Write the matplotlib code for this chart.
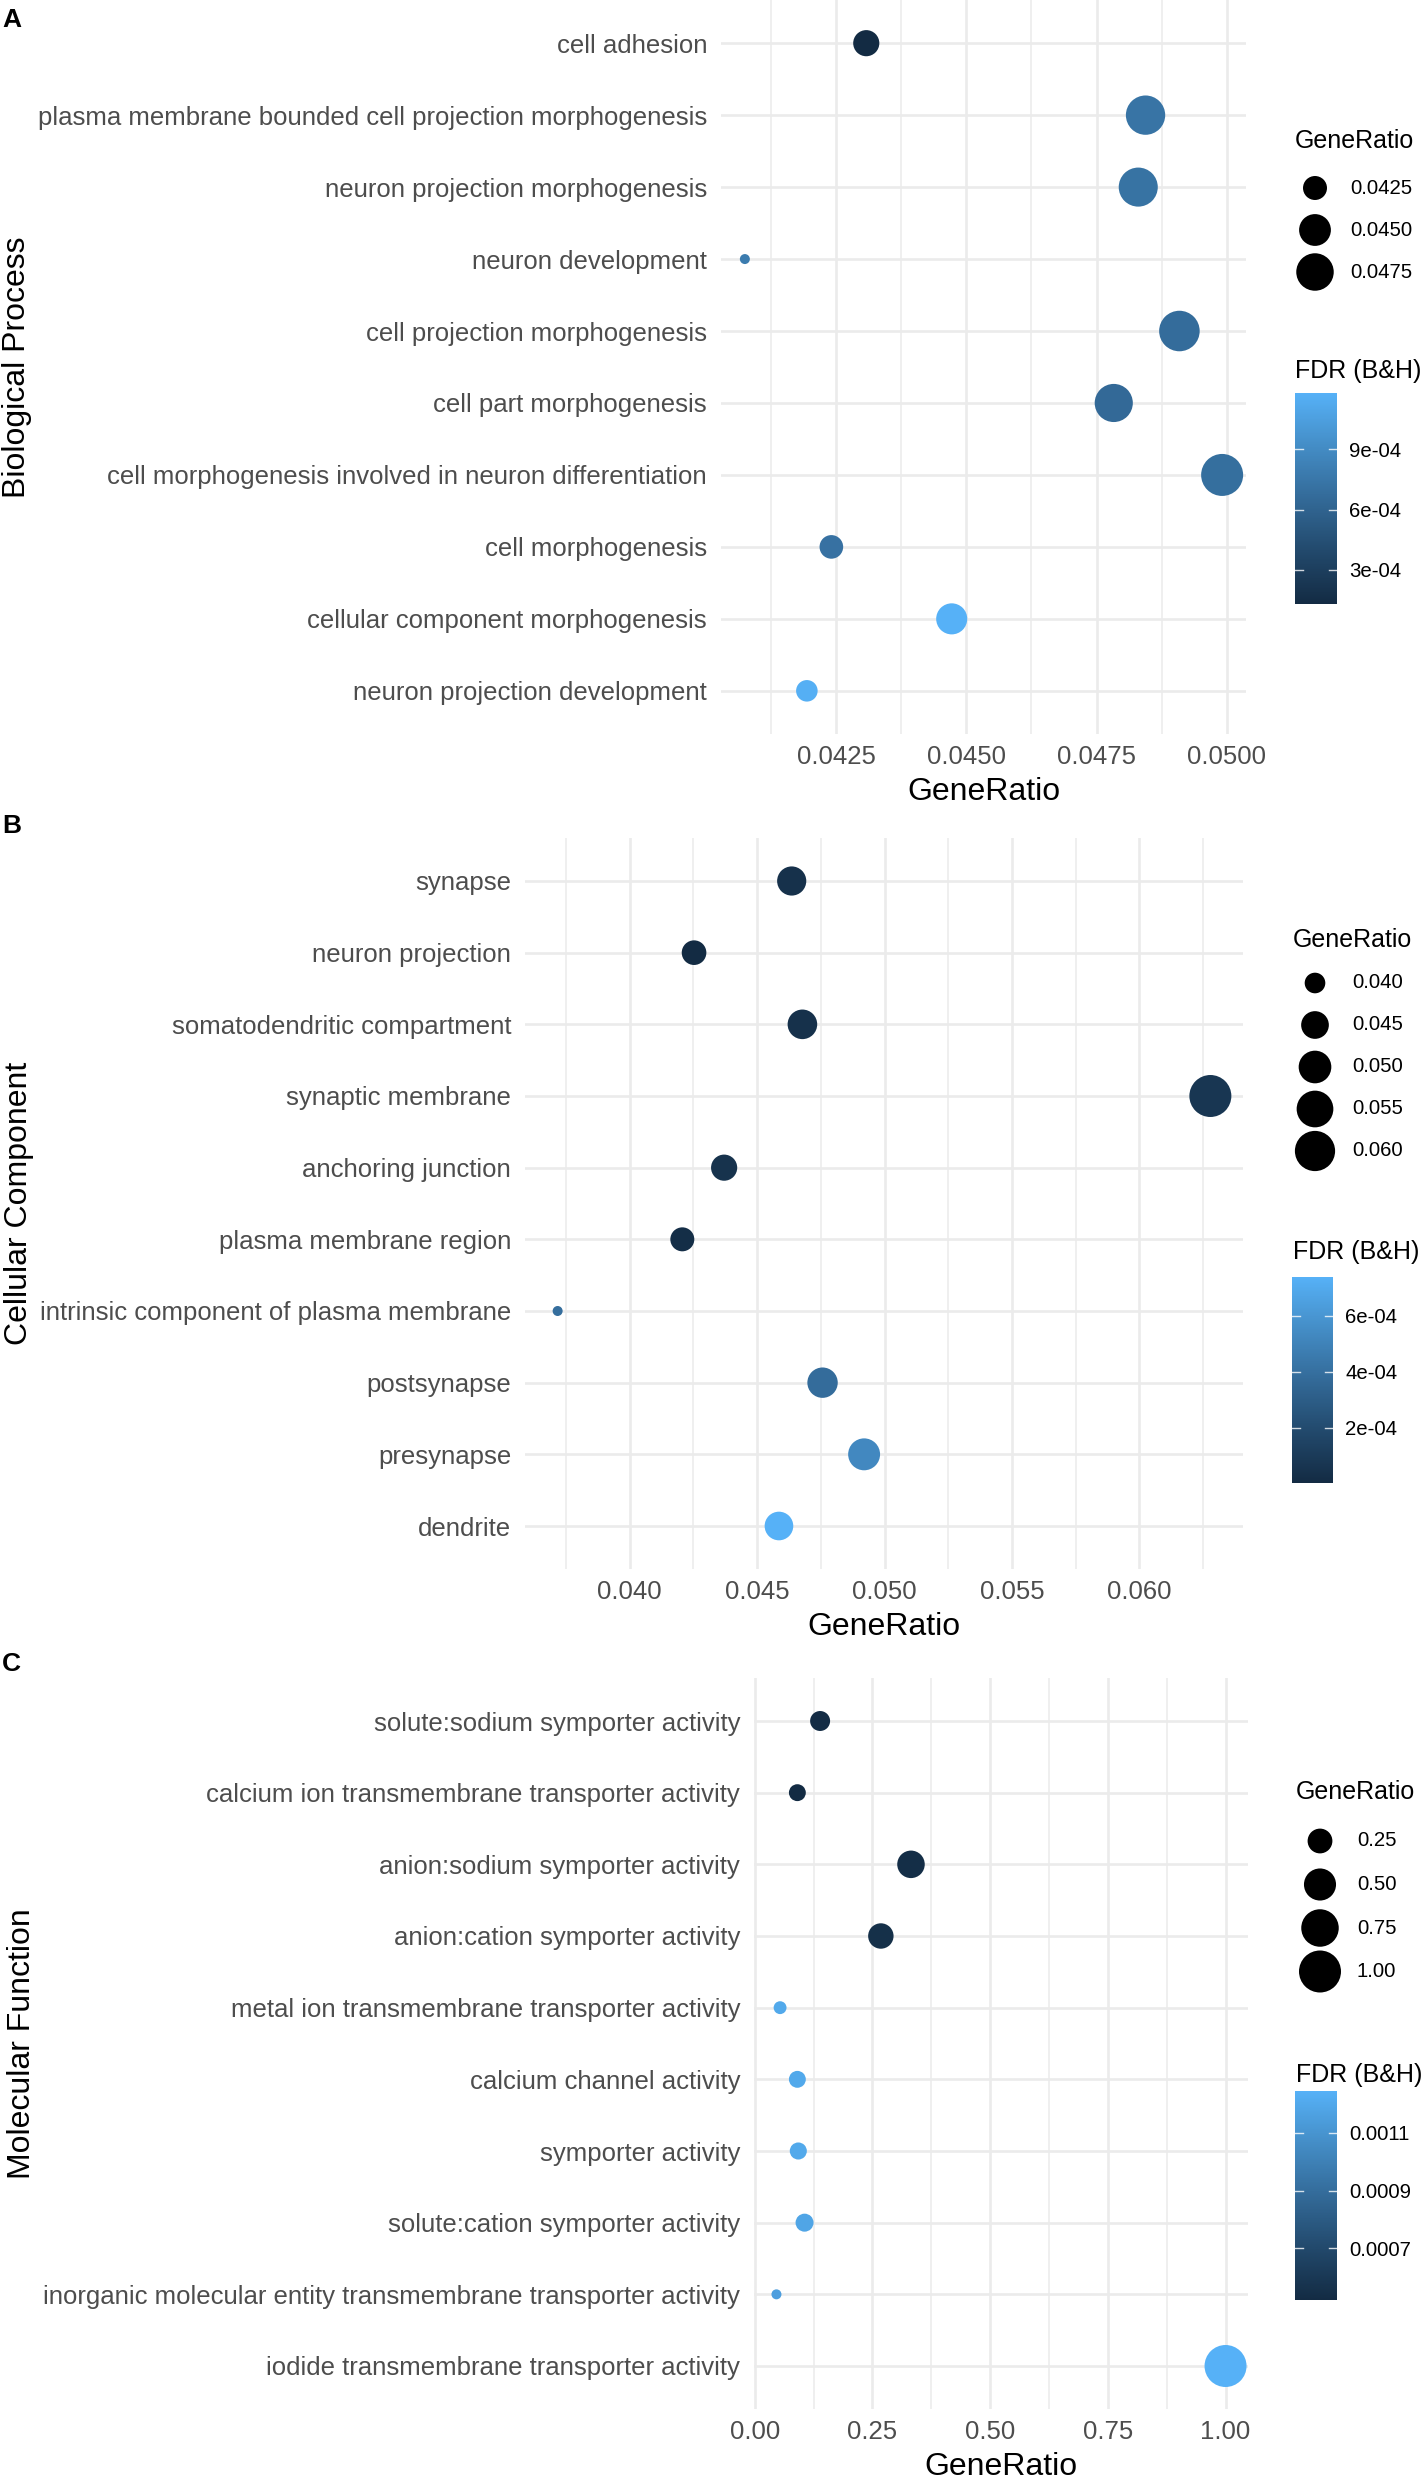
import numpy as np
import matplotlib
matplotlib.use("Agg")
import matplotlib.pyplot as plt
from matplotlib.colors import LinearSegmentedColormap, Normalize
from matplotlib.cm import ScalarMappable
from matplotlib.ticker import FormatStrFormatter

plt.rcParams['font.family'] = ['Liberation Sans', 'DejaVu Sans']

# ---- data (top to bottom as drawn) ----
bp_terms = ["cell adhesion",
            "plasma membrane bounded cell projection morphogenesis",
            "neuron projection morphogenesis",
            "neuron development",
            "cell projection morphogenesis",
            "cell part morphogenesis",
            "cell morphogenesis involved in neuron differentiation",
            "cell morphogenesis",
            "cellular component morphogenesis",
            "neuron projection development"]
bp_ratio = [0.04308, 0.04844, 0.0483, 0.04075, 0.04909, 0.04783, 0.04991, 0.04241, 0.04472, 0.04194]
bp_fdr = [1.3e-4, 7.3e-4, 7.2e-4, 7.9e-4, 6.7e-4, 6.5e-4, 6.9e-4, 7.1e-4, 1.18e-3, 1.16e-3]
bp_xticks = [0.0425, 0.0450, 0.0475, 0.0500]
bp_size_breaks = [0.0425, 0.0450, 0.0475]
bp_fdr_ticks = [3e-4, 6e-4, 9e-4]
bp_fdr_labels = ["3e-04", "6e-04", "9e-04"]

cc_terms = ["synapse", "neuron projection", "somatodendritic compartment",
            "synaptic membrane", "anchoring junction", "plasma membrane region",
            "intrinsic component of plasma membrane", "postsynapse", "presynapse",
            "dendrite"]
cc_ratio = [0.04636, 0.04253, 0.04678, 0.06278, 0.04371, 0.04207, 0.03718, 0.04757, 0.04920, 0.04586]
cc_fdr = [4e-5, 2e-6, 4e-5, 7e-5, 5e-5, 2e-5, 3.9e-4, 3.8e-4, 5.3e-4, 7.38e-4]
cc_xticks = [0.040, 0.045, 0.050, 0.055, 0.060]
cc_size_breaks = [0.040, 0.045, 0.050, 0.055, 0.060]
cc_fdr_ticks = [2e-4, 4e-4, 6e-4]
cc_fdr_labels = ["2e-04", "4e-04", "6e-04"]

mf_terms = ["solute:sodium symporter activity",
            "calcium ion transmembrane transporter activity",
            "anion:sodium symporter activity",
            "anion:cation symporter activity",
            "metal ion transmembrane transporter activity",
            "calcium channel activity",
            "symporter activity",
            "solute:cation symporter activity",
            "inorganic molecular entity transmembrane transporter activity",
            "iodide transmembrane transporter activity"]
mf_ratio = [0.139, 0.0907, 0.332, 0.268, 0.054, 0.0907, 0.0927, 0.106, 0.0463, 1.00]
mf_fdr = [5.3e-4, 5.21e-4, 5.4e-4, 5.5e-4, 1.2e-3, 1.2e-3, 1.2e-3, 1.18e-3, 1.15e-3, 1.245e-3]
mf_xticks = [0.00, 0.25, 0.50, 0.75, 1.00]
mf_size_breaks = [0.25, 0.50, 0.75, 1.00]
mf_fdr_ticks = [7e-4, 9e-4, 1.1e-3]
mf_fdr_labels = ["0.0007", "0.0009", "0.0011"]

# ---- figure setup ----
W, H, DPI = 1426, 2479, 100
fig = plt.figure(figsize=(W / DPI, H / DPI), dpi=DPI)
cmap = LinearSegmentedColormap.from_list(
    "gg", ["#132B43", "#22496C", "#336A98", "#448DC6", "#56B1F7"])
GRID = "#EBEBEB"

overlay = fig.add_axes([0, 0, 1, 1])
overlay.set_xlim(0, W)
overlay.set_ylim(H, 0)
overlay.axis("off")


def ax_px(l, t, r, b):
    return fig.add_axes([l / W, 1 - b / H, (r - l) / W, (b - t) / H])


def diam(x, lo, hi):
    size = 1 + 5 * np.sqrt((np.asarray(x) - lo) / (hi - lo))
    return 3.6 + 6.4 * size


def area(d):
    return (d * 72 / DPI) ** 2


def panel(terms, ratio, fdr, xticks, fmt, ytitle, letter, size_breaks, size_fmt,
          fdr_ticks, fdr_labels, lay):
    l, t, r, b = lay["box"]
    ax = ax_px(l, t, r, b)
    n = len(terms)
    y = np.arange(n)
    lo, hi = min(ratio), max(ratio)
    rng = hi - lo
    x0, x1 = lo - 0.05 * rng, hi + 0.05 * rng
    ax.set_xlim(x0, x1)
    ax.set_ylim(n - 0.4, -0.6)

    step = xticks[1] - xticks[0]
    minor = np.arange(xticks[0] - step / 2, xticks[-1] + step, step)
    minor = [m for m in minor if x0 < m < x1]
    ax.set_xticks(xticks)
    ax.set_xticks(minor, minor=True)
    ax.xaxis.set_major_formatter(FormatStrFormatter(fmt))
    ax.grid(which="major", axis="x", color=GRID, lw=1.9)
    ax.grid(which="minor", axis="x", color=GRID, lw=1.1)
    ax.set_yticks(y)
    ax.set_yticklabels(terms)
    ax.grid(which="major", axis="y", color=GRID, lw=1.9)
    ax.set_axisbelow(True)
    for s in ax.spines.values():
        s.set_visible(False)
    ax.tick_params(axis="both", which="both", length=0)
    ax.tick_params(axis="x", pad=8, labelsize=18.5, labelcolor="#4D4D4D")
    ax.tick_params(axis="y", pad=10, labelsize=18.5, labelcolor="#4D4D4D")
    ax.set_xlabel("GeneRatio", fontsize=23, va="center")
    ax.xaxis.set_label_coords(0.5, -58 / (b - t))

    norm = Normalize(min(fdr), max(fdr))
    ax.scatter(ratio, y, s=area(diam(ratio, lo, hi)), c=fdr, cmap=cmap, norm=norm,
               edgecolors="none", zorder=3, clip_on=False)

    fig.text(lay["ytitle_x"] / W, 1 - (t + b) / 2 / H, ytitle, rotation=90,
             fontsize=23, ha="center", va="center")
    fig.text(2 / W, 1 - lay["letter_y"] / H, letter, fontsize=19,
             fontweight="bold", va="center")

    # size legend
    fig.text(lay["leg_x"] / W, 1 - lay["size_title_y"] / H, "GeneRatio",
             fontsize=18, va="center")
    ky = lay["key_y"] + lay["key_step"] * np.arange(len(size_breaks))
    overlay.scatter([lay["key_x"]] * len(size_breaks), ky,
                    s=area(diam(size_breaks, lo, hi)), color="black",
                    edgecolors="none")
    for v, yy in zip(size_breaks, ky):
        overlay.text(lay["lab_x"], yy, size_fmt % v, fontsize=14.7, va="center")

    # colour bar
    fig.text(lay["leg_x"] / W, 1 - lay["fdr_title_y"] / H, "FDR (B&H)",
             fontsize=18, va="center")
    cax = ax_px(*lay["cbar"])
    cb = fig.colorbar(ScalarMappable(norm=norm, cmap=cmap), cax=cax)
    cb.outline.set_visible(False)
    cb.set_ticks(fdr_ticks)
    cb.set_ticklabels(fdr_labels)
    cax.tick_params(length=0, pad=9, labelsize=14.7)
    for tk in fdr_ticks:
        cax.plot([0, 0.2], [tk, tk], color="white", lw=1.0, alpha=0.8)
        cax.plot([0.8, 1], [tk, tk], color="white", lw=1.0, alpha=0.8)
    return ax


lay_a = dict(box=(721, 0, 1246, 734), ytitle_x=17, letter_y=20, leg_x=1295,
             size_title_y=141, key_y=188, key_step=42, key_x=1315, lab_x=1350,
             fdr_title_y=371, cbar=(1295, 393, 1337, 604))
lay_b = dict(box=(525, 838, 1243, 1569), ytitle_x=19, letter_y=826, leg_x=1293,
             size_title_y=940, key_y=983, key_step=42, key_x=1315, lab_x=1352,
             fdr_title_y=1252, cbar=(1292, 1277, 1333, 1483))
lay_c = dict(box=(754, 1678, 1248, 2409), ytitle_x=22, letter_y=1664, leg_x=1296,
             size_title_y=1792, key_y=1841, key_step=43.5, key_x=1320, lab_x=1357,
             fdr_title_y=2075, cbar=(1295, 2091, 1337, 2300))

panel(bp_terms, bp_ratio, bp_fdr, bp_xticks, "%.4f", "Biological Process", "A",
      bp_size_breaks, "%.4f", bp_fdr_ticks, bp_fdr_labels, lay_a)
panel(cc_terms, cc_ratio, cc_fdr, cc_xticks, "%.3f", "Cellular Component", "B",
      cc_size_breaks, "%.3f", cc_fdr_ticks, cc_fdr_labels, lay_b)
panel(mf_terms, mf_ratio, mf_fdr, mf_xticks, "%.2f", "Molecular Function", "C",
      mf_size_breaks, "%.2f", mf_fdr_ticks, mf_fdr_labels, lay_c)

fig.savefig("out.png", dpi=DPI)
